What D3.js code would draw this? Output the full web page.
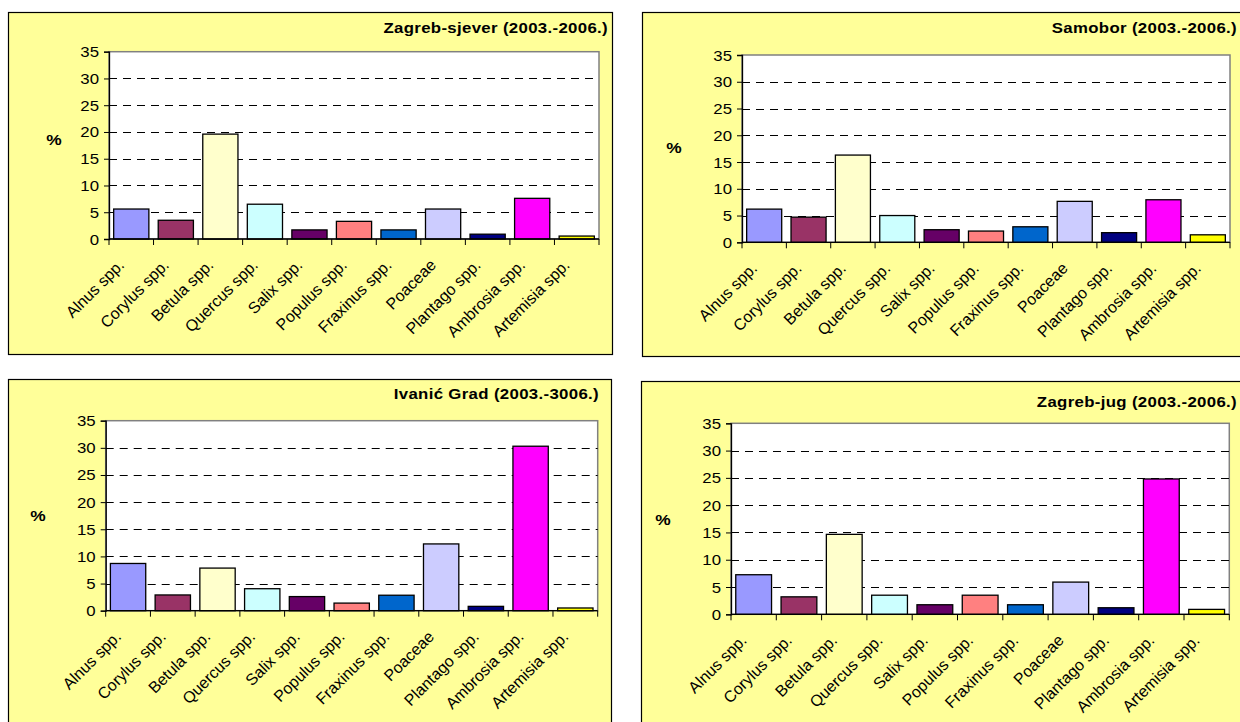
<!DOCTYPE html>
<html>
<head>
<meta charset="utf-8">
<script src="https://cdn.jsdelivr.net/npm/d3@7"></script>
<style>
  body { margin: 0; background: #fff; }
  svg { display: block; }
  text { font-family: Arial, "Liberation Sans", sans-serif; fill: #000; }
</style>
</head>
<body>
<svg id="chart" width="1240" height="722"></svg>
<script>
const categories = ['Alnus spp.', 'Corylus spp.', 'Betula spp.', 'Quercus spp.', 'Salix spp.',
  'Populus spp.', 'Fraxinus spp.', 'Poaceae', 'Plantago spp.', 'Ambrosia spp.', 'Artemisia spp.'];
const barColors = ['#9999ff', '#993366', '#ffffcc', '#ccffff', '#660066',
  '#ff8080', '#0066cc', '#ccccff', '#000080', '#ff00ff', '#ffff00'];
const yTicks = [0, 5, 10, 15, 20, 25, 30, 35];

// % per taxon
const zagrebSjever = [5.6, 3.5, 19.6, 6.5, 1.7, 3.3, 1.7, 5.6, 0.9, 7.6, 0.55];
const samobor = [6.2, 4.7, 16.3, 5.0, 2.35, 2.1, 2.9, 7.65, 1.8, 7.95, 1.4];
const ivanicGrad = [8.7, 2.9, 7.85, 4.05, 2.6, 1.4, 2.85, 12.3, 0.8, 30.3, 0.5];
const zagrebJug = [7.25, 3.2, 14.65, 3.5, 1.75, 3.5, 1.75, 5.9, 1.2, 24.8, 0.9];

const SX = 1.12; // text in the original is slightly wide

const panels = [
  { title: 'Zagreb-sjever (2003.-2006.)', values: zagrebSjever,
    frame: [8.5, 12.5, 604, 342], plot: [109, 599, 51.7, 239], pct: [54, 145], titleAt: [608, 33] },
  { title: 'Samobor (2003.-2006.)', values: samobor,
    frame: [642.5, 12.5, 640, 344], plot: [742, 1230, 55, 242.3], pct: [674, 153], titleAt: [1237, 33] },
  { title: 'Ivanić Grad (2003.-3006.)', values: ivanicGrad,
    frame: [8.5, 379.5, 603, 400], plot: [105.7, 597.7, 420.7, 610.7], pct: [38, 521], titleAt: [599, 399] },
  { title: 'Zagreb-jug (2003.-2006.)', values: zagrebJug,
    frame: [641.5, 381.5, 640, 400], plot: [731, 1229.3, 423.3, 614.3], pct: [663, 525], titleAt: [1237, 407] }
];

const svg = d3.select('#chart');

function stretchedText(g, x, y, str) {
  return g.append('text')
    .attr('transform', `translate(${x},${y}) scale(${SX},1)`)
    .text(str);
}

panels.forEach((p) => {
  const g = svg.append('g');
  const [fx, fy, fw, fh] = p.frame;
  const [x0, x1, y0, y1] = p.plot;

  g.append('rect')
    .attr('x', fx).attr('y', fy).attr('width', fw).attr('height', fh)
    .attr('fill', '#ffff99')
    .attr('stroke', '#000')
    .attr('stroke-width', 1.2);

  const x = d3.scaleBand()
    .domain(categories)
    .range([x0, x1])
    .paddingInner(0.21)
    .paddingOuter(0.105);
  const y = d3.scaleLinear().domain([0, 35]).range([y1, y0]);

  // plot area
  g.append('rect')
    .attr('x', x0).attr('y', y0).attr('width', x1 - x0).attr('height', y1 - y0)
    .attr('fill', '#fff')
    .attr('stroke', '#808080')
    .attr('stroke-width', 1.5);

  // dashed gridlines
  g.append('g')
    .selectAll('line')
    .data(yTicks.filter(t => t > 0 && t < 35))
    .enter()
    .append('line')
    .attr('x1', x0).attr('x2', x1)
    .attr('y1', d => Math.round(y(d)) + 0.5)
    .attr('y2', d => Math.round(y(d)) + 0.5)
    .attr('stroke', '#000')
    .attr('stroke-dasharray', '8,6');

  // bars
  g.append('g')
    .selectAll('rect')
    .data(p.values)
    .enter()
    .append('rect')
    .attr('x', (d, i) => x(categories[i]))
    .attr('y', d => y(d))
    .attr('width', x.bandwidth())
    .attr('height', d => y(0) - y(d))
    .attr('fill', (d, i) => barColors[i])
    .attr('stroke', '#000')
    .attr('stroke-width', 1.3);

  // y axis
  const yAxis = d3.axisLeft(y).tickValues(yTicks).tickSize(5).tickPadding(4);
  const ya = g.append('g').attr('transform', `translate(${x0},0)`).call(yAxis);
  ya.select('.domain').attr('stroke', '#000').attr('stroke-width', 1.3);
  ya.selectAll('.tick line').attr('stroke', '#000');
  ya.selectAll('.tick text').remove();
  yTicks.forEach((t) => {
    stretchedText(g, x0 - 10, y(t) + 5.5, t)
      .attr('text-anchor', 'end')
      .style('font-size', '15px');
  });

  // x axis with ticks on category boundaries
  const step = x.step();
  const bounds = d3.range(categories.length + 1).map(i => x0 + i * step);
  g.append('line')
    .attr('x1', x0).attr('x2', x1)
    .attr('y1', y1).attr('y2', y1)
    .attr('stroke', '#000').attr('stroke-width', 1.3);
  g.append('g')
    .selectAll('line')
    .data(bounds)
    .enter()
    .append('line')
    .attr('x1', d => d).attr('x2', d => d)
    .attr('y1', y1).attr('y2', y1 + 6)
    .attr('stroke', '#000');

  g.append('g')
    .selectAll('text')
    .data(categories)
    .enter()
    .append('text')
    .attr('text-anchor', 'end')
    .attr('transform', d => {
      const cx = x(d) + x.bandwidth() / 2 - 6;
      return `translate(${cx},${y1 + 27}) rotate(-45)`;
    })
    .style('font-size', '16px')
    .text(d => d);

  stretchedText(g, p.pct[0], p.pct[1], '%')
    .attr('text-anchor', 'middle')
    .style('font-size', '15.5px')
    .style('font-weight', 'bold');

  stretchedText(g, p.titleAt[0], p.titleAt[1], p.title)
    .attr('text-anchor', 'end')
    .style('font-size', '15px')
    .style('letter-spacing', '0.3px')
    .style('font-weight', 'bold');
});
</script>
</body>
</html>
